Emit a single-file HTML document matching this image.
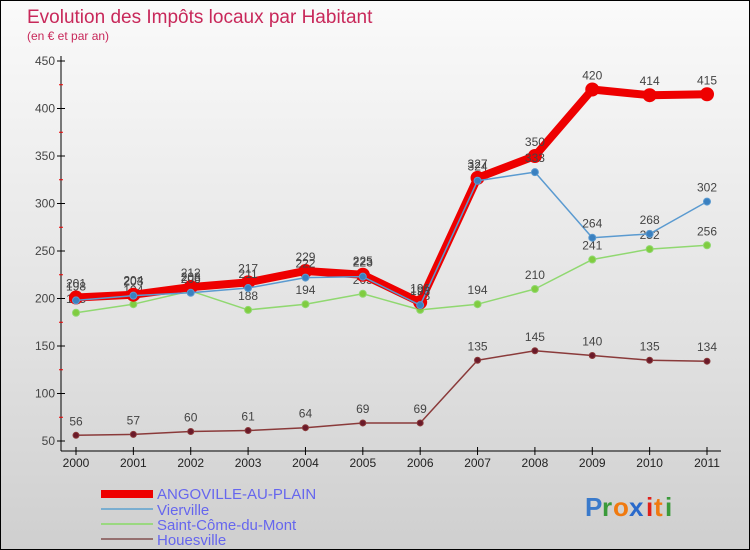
<!DOCTYPE html>
<html><head><meta charset="utf-8"><style>
body{margin:0}
#c{position:relative;width:748px;height:548px;border:1px solid #000;background:linear-gradient(#fafafa,#e2e2e2 60%,#cfcfcf);font-family:"Liberation Sans",sans-serif;overflow:hidden}
</style></head><body>
<div id="c">
<svg width="748" height="548" id="s">
<text x="26" y="22" font-size="19" fill="#c8285a">Evolution des Impôts locaux par Habitant</text>
<text x="26" y="39" font-size="12" fill="#c8285a">(en € et par an)</text>
<g id="ax"></g><g id="mk"></g>
<g font-size="15" fill="#6666ee">
<rect x="100" y="489" width="52" height="8" fill="#ee0000"/>
<text x="156" y="498">ANGOVILLE-AU-PLAIN</text>
<rect x="100" y="507" width="52" height="2" fill="#7aaed0"/>
<text x="156" y="514">Vierville</text>
<rect x="100" y="522" width="52" height="2" fill="#9ad880"/>
<text x="156" y="529">Saint-Côme-du-Mont</text>
<rect x="100" y="537" width="52" height="2" fill="#957070"/>
<text x="156" y="544">Houesville</text>
</g>
<g font-size="26" font-weight="bold">
<text x="584" y="515" fill="#3a7acb">P</text><text x="601" y="515" fill="#3a9a3a">r</text><text x="612" y="515" fill="#f07a10">o</text><text x="628" y="515" fill="#2a6acb">x</text><text x="645" y="515" fill="#e0201a">i</text><text x="653" y="515" fill="#f07a10">t</text><text x="664" y="515" fill="#3a9a3a">i</text>
</g>
</svg></div>
<script>
const years=[2000,2001,2002,2003,2004,2005,2006,2007,2008,2009,2010,2011];
const angoville=[201,204,212,217,229,225,196,327,350,420,414,415];
const vierville=[198,203,206,211,222,223,193,324,333,264,268,302];
const stcome=[185,194,208,188,194,205,188,194,210,241,252,256];
const houesville=[56,57,60,61,64,69,69,135,145,140,135,134];
const yTicks=[50,100,150,200,250,300,350,400,450];
const NS="http://www.w3.org/2000/svg";
const X=i=>75+i*(706-75)/11, Y=v=>440-(v-50)*0.95;
function mk(t,a,p){const e=document.createElementNS(NS,t);for(const k in a)e.setAttribute(k,a[k]);p.appendChild(e);return e;}
const ax=document.getElementById('ax'),g=document.getElementById('mk');
let l=mk('line',{x1:60,y1:55,x2:60,y2:450,stroke:'#000'},ax);


l=mk('line',{x1:60,y1:450,x2:720,y2:450,stroke:'#000'},ax);


yTicks.forEach(v=>{mk('line',{x1:56,x2:64,y1:Y(v),y2:Y(v),stroke:'#000'},ax);
if(v<450)mk('line',{x1:58,x2:62,y1:Y(v+25),y2:Y(v+25),stroke:'#e00'},ax);
const t=mk('text',{x:54,y:Y(v)+4,'text-anchor':'end','font-size':12,fill:'#444'},ax);t.textContent=v;

});
years.forEach((y,i)=>{mk('line',{x1:X(i),x2:X(i),y1:446,y2:454,stroke:'#000'},ax);
const t=mk('text',{x:X(i),y:466,'text-anchor':'middle','font-size':12,fill:'#222'},ax);t.textContent=y;

});
function series(d,col,w,r,fill,name,below){
const p=mk('polyline',{points:d.map((v,i)=>X(i)+','+Y(v)).join(' '),fill:'none',stroke:col,'stroke-width':w,'stroke-linejoin':'round'},g);


d.forEach((v,i)=>{const c=mk('circle',{cx:X(i),cy:Y(v),r:r,fill:fill,stroke:col,'stroke-width':w>3?2:1},g);


const t=mk('text',{x:X(i),y:below?Y(v)+(-10):Y(v)-10,'text-anchor':'middle','font-size':12,fill:'#444'},g);t.textContent=v;

});}
series(houesville,'#8a3a3a',1.5,3,'#6a1a2a','houesville');
series(stcome,'#90d870',1.5,3.5,'#80cc40','saint-come');
series(angoville,'#ee0000',8,6,'#ee0000','angoville');
series(vierville,'#5a9ad0',1.5,3.5,'#3a80c0','vierville');
</script>
</body></html>
